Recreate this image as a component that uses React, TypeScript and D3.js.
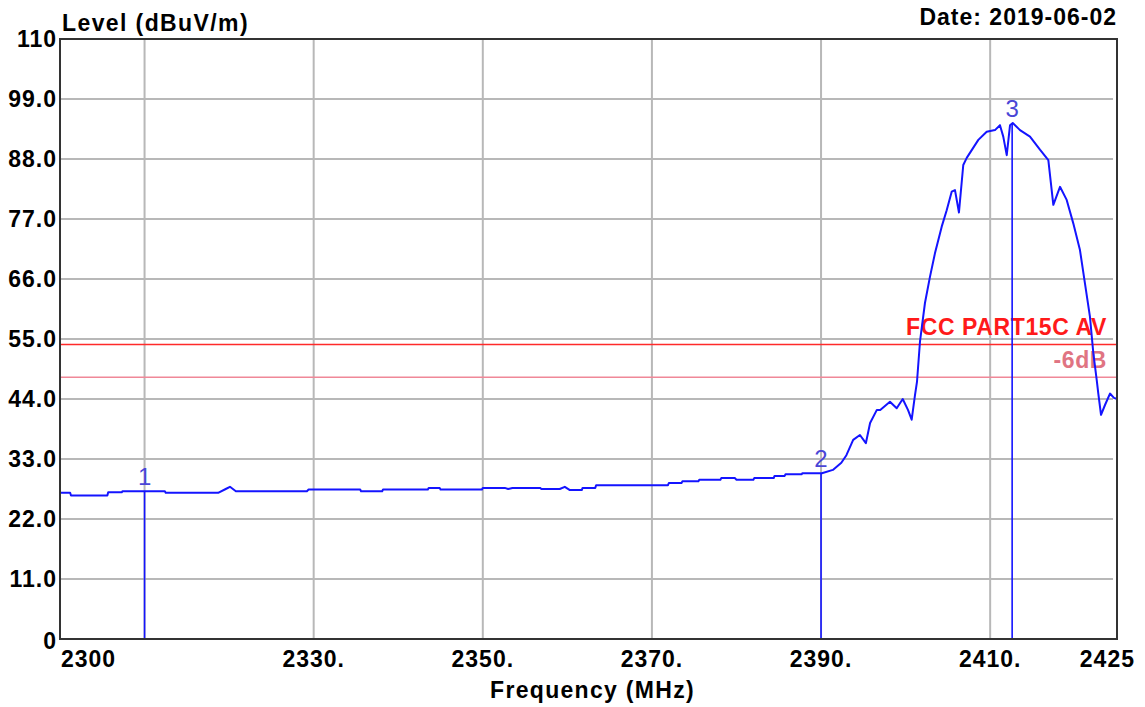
import * as d3 from "d3";

const W = 1145;
const H = 707;
const margin = { top: 39, right: 28, bottom: 68, left: 60 };

// trace: frequency (MHz) / level (dBuV/m)
const traceFreq = [
  2300.0, 2301.2, 2301.3, 2305.6, 2305.7, 2307.3, 2307.4, 2312.4, 2312.5, 2318.7,
  2319.6, 2320.1, 2320.8, 2329.2, 2329.4, 2335.5, 2335.6, 2338.1, 2338.2, 2343.5,
  2343.6, 2344.9, 2345.0, 2349.9, 2350.0, 2352.6, 2353.0, 2353.5, 2356.8, 2356.9,
  2359.1, 2359.7, 2360.3, 2361.7, 2361.8, 2363.3, 2363.4, 2371.9, 2372.0, 2373.5,
  2373.6, 2375.5, 2375.6, 2378.1, 2378.2, 2379.8, 2380.0, 2382.0, 2382.1, 2384.4,
  2384.5, 2385.7, 2385.8, 2387.7, 2387.8, 2390.1, 2391.4, 2392.4, 2393.0, 2393.8,
  2394.6, 2395.3, 2395.8, 2396.6, 2397.0, 2398.15, 2398.95, 2399.66, 2400.28, 2400.72,
  2401.11, 2401.35, 2401.7, 2402.29, 2402.88, 2403.47, 2404.27, 2404.86, 2405.45, 2405.84,
  2406.31, 2406.82, 2407.23, 2408.6, 2409.59, 2410.57, 2411.16, 2411.55, 2411.96, 2412.35,
  2412.67, 2413.53, 2414.71, 2415.89, 2416.88, 2417.47, 2418.26, 2419.05, 2419.83, 2420.62,
  2421.21, 2421.8, 2422.2, 2422.6, 2422.79, 2423.11, 2423.58, 2424.17, 2424.64, 2425.0,
];
const traceLevel = [
  26.8, 26.8, 26.3, 26.3, 26.9, 26.9, 27.1, 27.1, 26.8, 26.8,
  27.5, 27.9, 27.1, 27.1, 27.4, 27.4, 27.1, 27.1, 27.4, 27.4,
  27.7, 27.7, 27.4, 27.4, 27.7, 27.7, 27.5, 27.7, 27.7, 27.5,
  27.5, 27.9, 27.3, 27.3, 27.7, 27.7, 28.2, 28.2, 28.6, 28.6,
  28.9, 28.9, 29.2, 29.2, 29.5, 29.5, 29.2, 29.2, 29.5, 29.5,
  29.9, 29.9, 30.2, 30.2, 30.4, 30.4, 31.0, 32.3, 33.7, 36.5,
  37.4, 35.9, 39.6, 42.0, 42.0, 43.5, 42.3, 44.0, 42.0, 40.2,
  44.7, 47.2, 54.5, 61.6, 66.4, 70.7, 75.6, 78.6, 82.0, 82.3,
  78.2, 86.9, 88.2, 91.5, 93.0, 93.3, 94.2, 92.1, 88.7, 94.2,
  94.6, 93.3, 92.1, 89.7, 87.8, 79.6, 82.9, 80.5, 76.2, 71.3,
  65.2, 59.1, 52.4, 47.5, 45.0, 41.1, 42.9, 45.0, 44.2, 44.0,
];

const markerNames = ["1", "2", "3"];
const markerFreq = [2310.0, 2390.0, 2412.6];
const markerLevel = [27.1, 30.4, 94.6];

const yTicks = [0, 11, 22, 33, 44, 55, 66, 77, 88, 99, 110];
const yTickLabels = ["0", "11.0", "22.0", "33.0", "44.0", "55.0", "66.0", "77.0", "88.0", "99.0", "110"];
const xGrid = [2310, 2330, 2350, 2370, 2390, 2410];
const xTicks = [2300, 2330, 2350, 2370, 2390, 2410, 2425];
const xTickLabels = ["2300", "2330.", "2350.", "2370.", "2390.", "2410.", "2425"];

const limitNames = ["FCC PART15C AV", "-6dB"];
const limitLevels = [54, 48];
const limitColors = ["#ff2a2a", "#f08898"];
const limitTextColors = ["#ff1a1a", "#e07482"];

const font = "'Liberation Sans', Arial, sans-serif";

export default function App() {
  const x = d3.scaleLinear().domain([2300, 2425]).range([margin.left, W - margin.right]);
  const y = d3.scaleLinear().domain([0, 110]).range([H - margin.bottom, margin.top]);

  const line = d3
    .line<number>()
    .x((_, i) => x(traceFreq[i]))
    .y((d) => y(d));

  const x0 = x.range()[0];
  const x1 = x.range()[1];
  const y0 = y.range()[0];
  const y1 = y.range()[1];

  return (
    <svg
      width={W}
      height={H}
      style={{ position: "absolute", left: 0, top: 0, background: "#fff" }}
      fontFamily={font}
    >
      {/* grid */}
      {yTicks.slice(1, -1).map((t) => (
        <line key={"gy" + t} x1={x0} x2={x1 - 4} y1={y(t)} y2={y(t)} stroke="#b8b8b8" strokeWidth={2} />
      ))}
      {xGrid.map((t) => (
        <line key={"gx" + t} x1={x(t)} x2={x(t)} y1={y1} y2={y0} stroke="#b8b8b8" strokeWidth={2} />
      ))}

      {/* limit lines */}
      {limitLevels.map((l, i) => (
        <g key={"lim" + i}>
          <line x1={x0} x2={x1} y1={y(l)} y2={y(l)} stroke={limitColors[i]} strokeWidth={1.6} />
          <text
            x={x1 - 10}
            y={y(l) - 9}
            textAnchor="end"
            fontSize={23}
            fontWeight="bold"
            letterSpacing={0.6}
            fill={limitTextColors[i]}
          >
            {limitNames[i]}
          </text>
        </g>
      ))}

      {/* trace */}
      <path d={line(traceLevel) || ""} fill="none" stroke="#1414ff" strokeWidth={2} strokeLinejoin="round" />

      {/* markers */}
      {markerFreq.map((f, i) => (
        <g key={"m" + i}>
          <line x1={x(f)} x2={x(f)} y1={y(markerLevel[i])} y2={y0} stroke="#1414ff" strokeWidth={1.6} />
          <text x={x(f)} y={y(markerLevel[i]) - 6} textAnchor="middle" fontSize={24} fill="#4a46d6">
            {markerNames[i]}
          </text>
        </g>
      ))}

      {/* frame */}
      <rect x={x0} y={y1} width={x1 - x0} height={y0 - y1} fill="none" stroke="#333" strokeWidth={2} />

      {/* y tick labels */}
      {yTicks.map((t, i) => (
        <text
          key={"yl" + t}
          x={57}
          y={y(t) + (t === 0 ? 10 : 8)}
          textAnchor="end"
          fontSize={23}
          fontWeight="bold"
          letterSpacing={1}
          fill="#000"
        >
          {yTickLabels[i]}
        </text>
      ))}

      {/* x tick labels */}
      {xTicks.map((t, i) => {
        const first = i === 0;
        const last = i === xTicks.length - 1;
        return (
          <text
            key={"xl" + t}
            x={first ? x(t) + 1 : last ? x(t) + 18 : x(t)}
            y={667}
            textAnchor={first ? "start" : last ? "end" : "middle"}
            fontSize={23}
            fontWeight="bold"
            letterSpacing={1}
            fill="#000"
          >
            {xTickLabels[i]}
          </text>
        );
      })}

      {/* titles */}
      <text x={62} y={31} fontSize={23} fontWeight="bold" letterSpacing={1.4} fill="#000">
        Level (dBuV/m)
      </text>
      <text x={x1} y={25} textAnchor="end" fontSize={23} fontWeight="bold" letterSpacing={1} fill="#000">
        Date: 2019-06-02
      </text>
      <text
        x={(x0 + x1) / 2 + 4}
        y={698}
        textAnchor="middle"
        fontSize={23}
        fontWeight="bold"
        letterSpacing={1.3}
        fill="#000"
      >
        Frequency (MHz)
      </text>
    </svg>
  );
}
